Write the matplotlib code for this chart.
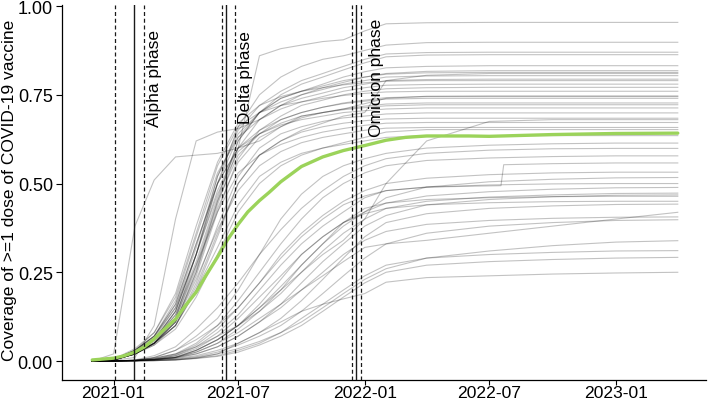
import matplotlib
matplotlib.use("Agg")
import matplotlib.pyplot as plt
import matplotlib.dates as mdates
import numpy as np

plt.rcParams['font.family'] = ['Liberation Sans', 'DejaVu Sans']

# ---------------- data ----------------
sample_dates = ["2020-12-01", "2021-01-01", "2021-02-01", "2021-03-01", "2021-04-01",
                "2021-05-01", "2021-06-01", "2021-07-01", "2021-08-01", "2021-09-01",
                "2021-10-01", "2021-11-01", "2021-12-01", "2022-01-01", "2022-02-01",
                "2022-04-01", "2022-07-01", "2022-10-01", "2023-01-01", "2023-04-01"]

# high-uptake countries
cov_a01 = [0, 0.003, 0.02, 0.05, 0.12, 0.30, 0.50, 0.60, 0.86, 0.88, 0.89, 0.90, 0.905, 0.93, 0.95, 0.953, 0.954, 0.954, 0.954, 0.954]
cov_a02 = [0, 0.005, 0.03, 0.07, 0.15, 0.30, 0.50, 0.66, 0.75, 0.80, 0.83, 0.85, 0.86, 0.875, 0.89, 0.897, 0.898, 0.898, 0.898, 0.898]
cov_a03 = [0, 0.004, 0.025, 0.06, 0.14, 0.30, 0.52, 0.65, 0.72, 0.76, 0.79, 0.81, 0.83, 0.85, 0.865, 0.869, 0.870, 0.870, 0.870, 0.870]
cov_a04 = [0, 0.003, 0.02, 0.05, 0.11, 0.25, 0.45, 0.62, 0.70, 0.75, 0.78, 0.80, 0.82, 0.84, 0.857, 0.862, 0.863, 0.863, 0.863, 0.863]
cov_a05 = [0, 0.004, 0.03, 0.07, 0.16, 0.33, 0.50, 0.63, 0.70, 0.74, 0.76, 0.78, 0.80, 0.815, 0.826, 0.830, 0.832, 0.832, 0.832, 0.832]
cov_a06 = [0, 0.003, 0.025, 0.06, 0.13, 0.28, 0.46, 0.62, 0.70, 0.74, 0.76, 0.775, 0.79, 0.80, 0.81, 0.816, 0.818, 0.818, 0.818, 0.818]
cov_a07 = [0, 0.002, 0.01, 0.10, 0.40, 0.62, 0.645, 0.655, 0.68, 0.72, 0.75, 0.77, 0.785, 0.80, 0.808, 0.812, 0.813, 0.813, 0.813, 0.813]
cov_a08 = [0, 0.004, 0.028, 0.065, 0.15, 0.32, 0.52, 0.64, 0.70, 0.73, 0.75, 0.765, 0.78, 0.79, 0.80, 0.803, 0.804, 0.804, 0.804, 0.804]
cov_a09 = [0, 0.003, 0.02, 0.055, 0.12, 0.26, 0.44, 0.60, 0.68, 0.72, 0.74, 0.755, 0.77, 0.78, 0.79, 0.793, 0.794, 0.794, 0.794, 0.794]
cov_a10 = [0, 0.004, 0.03, 0.07, 0.17, 0.35, 0.53, 0.63, 0.68, 0.71, 0.73, 0.745, 0.76, 0.77, 0.777, 0.779, 0.780, 0.780, 0.780, 0.780]
cov_a11 = [0, 0.003, 0.02, 0.05, 0.11, 0.24, 0.42, 0.57, 0.65, 0.69, 0.72, 0.735, 0.75, 0.76, 0.767, 0.770, 0.771, 0.771, 0.771, 0.771]
cov_a12 = [0, 0.02, 0.38, 0.51, 0.575, 0.58, 0.585, 0.60, 0.62, 0.66, 0.69, 0.70, 0.71, 0.725, 0.74, 0.746, 0.747, 0.747, 0.747, 0.747]
cov_a13 = [0, 0.004, 0.025, 0.06, 0.14, 0.30, 0.48, 0.60, 0.65, 0.68, 0.70, 0.715, 0.725, 0.732, 0.738, 0.740, 0.740, 0.740, 0.740, 0.740]
cov_a14 = [0, 0.003, 0.02, 0.05, 0.11, 0.25, 0.43, 0.56, 0.63, 0.66, 0.685, 0.70, 0.71, 0.718, 0.724, 0.727, 0.727, 0.727, 0.727, 0.727]
cov_a15 = [0, 0.004, 0.03, 0.07, 0.16, 0.33, 0.50, 0.60, 0.64, 0.665, 0.68, 0.69, 0.70, 0.705, 0.71, 0.713, 0.713, 0.713, 0.713, 0.713]
cov_a16 = [0, 0.003, 0.02, 0.05, 0.10, 0.22, 0.38, 0.52, 0.60, 0.64, 0.66, 0.675, 0.685, 0.69, 0.696, 0.699, 0.699, 0.699, 0.699, 0.699]
cov_a17 = [0, 0.003, 0.02, 0.045, 0.10, 0.20, 0.35, 0.50, 0.58, 0.62, 0.645, 0.66, 0.67, 0.677, 0.682, 0.684, 0.684, 0.684, 0.684, 0.684]
cov_a18 = [0, 0.004, 0.025, 0.06, 0.13, 0.27, 0.42, 0.53, 0.58, 0.61, 0.63, 0.645, 0.655, 0.664, 0.67, 0.672, 0.672, 0.672, 0.672, 0.672]
cov_a19 = [0, 0.003, 0.02, 0.05, 0.11, 0.23, 0.37, 0.48, 0.55, 0.59, 0.615, 0.63, 0.64, 0.65, 0.656, 0.658, 0.658, 0.658, 0.658, 0.658]
cov_a20 = [0, 0.003, 0.02, 0.045, 0.09, 0.18, 0.30, 0.42, 0.50, 0.55, 0.58, 0.60, 0.615, 0.63, 0.645, 0.652, 0.652, 0.652, 0.652, 0.652]
cov_a21 = [0, 0.003, 0.02, 0.05, 0.10, 0.20, 0.32, 0.44, 0.52, 0.56, 0.585, 0.60, 0.61, 0.62, 0.63, 0.635, 0.635, 0.635, 0.635, 0.635]
cov_a22 = [0, 0.003, 0.02, 0.05, 0.10, 0.21, 0.36, 0.50, 0.58, 0.62, 0.65, 0.67, 0.69, 0.70, 0.79, 0.805, 0.81, 0.81, 0.81, 0.81]
cov_a23 = [0, 0.001, 0.002, 0.005, 0.01, 0.03, 0.06, 0.10, 0.15, 0.20, 0.25, 0.30, 0.34, 0.40, 0.50, 0.62, 0.675, 0.68, 0.68, 0.68]
cov_a24 = [0, 0.004, 0.03, 0.08, 0.18, 0.36, 0.55, 0.66, 0.70, 0.72, 0.73, 0.74, 0.748, 0.754, 0.758, 0.760, 0.760, 0.760, 0.760, 0.760]
cov_a25 = [0, 0.003, 0.025, 0.06, 0.14, 0.30, 0.47, 0.59, 0.64, 0.67, 0.69, 0.70, 0.708, 0.714, 0.719, 0.722, 0.722, 0.722, 0.722, 0.722]
cov_a26 = [0, 0.005, 0.035, 0.08, 0.19, 0.38, 0.56, 0.67, 0.72, 0.745, 0.76, 0.77, 0.778, 0.784, 0.788, 0.790, 0.790, 0.790, 0.790, 0.790]
cov_a27 = [0, 0.003, 0.02, 0.05, 0.12, 0.27, 0.45, 0.58, 0.64, 0.68, 0.70, 0.715, 0.727, 0.735, 0.742, 0.745, 0.745, 0.745, 0.745, 0.745]

# lower-uptake countries
cov_b01 = [0, 0, 0.002, 0.01, 0.03, 0.07, 0.12, 0.20, 0.30, 0.40, 0.47, 0.52, 0.55, 0.57, 0.585, 0.60, 0.608, 0.612, 0.614, 0.614]
cov_b02 = [0, 0, 0.003, 0.015, 0.04, 0.09, 0.15, 0.22, 0.30, 0.37, 0.43, 0.48, 0.52, 0.55, 0.57, 0.585, 0.594, 0.598, 0.599, 0.599]
cov_b03 = [0, 0, 0.002, 0.008, 0.02, 0.05, 0.10, 0.17, 0.25, 0.33, 0.40, 0.46, 0.50, 0.53, 0.55, 0.565, 0.572, 0.576, 0.578, 0.578]
cov_b05 = [0, 0, 0.002, 0.01, 0.03, 0.06, 0.10, 0.15, 0.22, 0.30, 0.36, 0.41, 0.45, 0.48, 0.50, 0.515, 0.525, 0.53, 0.532, 0.532]
cov_b06 = [0, 0, 0.001, 0.004, 0.01, 0.025, 0.05, 0.09, 0.14, 0.20, 0.27, 0.33, 0.38, 0.42, 0.46, 0.49, 0.505, 0.512, 0.516, 0.517]
cov_b07 = [0, 0, 0.001, 0.005, 0.015, 0.035, 0.07, 0.12, 0.18, 0.24, 0.30, 0.35, 0.39, 0.42, 0.445, 0.465, 0.477, 0.484, 0.488, 0.489]
cov_b08 = [0, 0, 0.002, 0.008, 0.02, 0.04, 0.07, 0.10, 0.14, 0.19, 0.25, 0.31, 0.36, 0.40, 0.43, 0.45, 0.462, 0.468, 0.472, 0.473]
cov_b09 = [0, 0, 0.001, 0.003, 0.008, 0.02, 0.04, 0.07, 0.11, 0.16, 0.22, 0.28, 0.33, 0.38, 0.41, 0.44, 0.455, 0.463, 0.467, 0.468]
cov_b10 = [0, 0, 0.001, 0.004, 0.01, 0.03, 0.06, 0.10, 0.15, 0.21, 0.27, 0.33, 0.39, 0.43, 0.445, 0.455, 0.46, 0.463, 0.464, 0.464]
cov_b11 = [0, 0, 0.001, 0.003, 0.007, 0.015, 0.03, 0.05, 0.08, 0.12, 0.17, 0.23, 0.29, 0.35, 0.39, 0.415, 0.43, 0.437, 0.441, 0.442]
cov_b12 = [0, 0, 0.001, 0.004, 0.01, 0.025, 0.05, 0.08, 0.12, 0.16, 0.20, 0.24, 0.28, 0.32, 0.33, 0.34, 0.36, 0.38, 0.40, 0.419]
cov_b13 = [0, 0, 0.001, 0.003, 0.01, 0.02, 0.04, 0.07, 0.11, 0.15, 0.20, 0.25, 0.30, 0.34, 0.365, 0.385, 0.396, 0.402, 0.405, 0.406]
cov_b14 = [0, 0, 0.001, 0.002, 0.005, 0.012, 0.025, 0.045, 0.07, 0.10, 0.14, 0.19, 0.24, 0.29, 0.33, 0.36, 0.38, 0.39, 0.396, 0.398]
cov_b15 = [0, 0, 0.001, 0.002, 0.004, 0.01, 0.02, 0.035, 0.055, 0.08, 0.11, 0.15, 0.19, 0.23, 0.26, 0.29, 0.31, 0.325, 0.335, 0.339]
cov_b16 = [0, 0, 0, 0.001, 0.003, 0.008, 0.015, 0.03, 0.05, 0.08, 0.12, 0.16, 0.20, 0.24, 0.27, 0.29, 0.30, 0.306, 0.31, 0.311]
cov_b17 = [0, 0, 0, 0.001, 0.003, 0.007, 0.013, 0.025, 0.045, 0.07, 0.10, 0.14, 0.18, 0.22, 0.25, 0.27, 0.28, 0.286, 0.29, 0.292]
cov_b18 = [0, 0, 0, 0.001, 0.003, 0.008, 0.02, 0.05, 0.08, 0.11, 0.14, 0.16, 0.175, 0.19, 0.222, 0.235, 0.24, 0.245, 0.248, 0.25]
cov_b19 = [0, 0, 0.001, 0.004, 0.012, 0.03, 0.06, 0.10, 0.16, 0.23, 0.30, 0.35, 0.39, 0.415, 0.43, 0.44, 0.446, 0.449, 0.45, 0.45]
cov_b20 = [0, 0, 0.002, 0.006, 0.018, 0.045, 0.09, 0.15, 0.22, 0.29, 0.35, 0.40, 0.44, 0.465, 0.48, 0.49, 0.496, 0.499, 0.50, 0.50]

# one country with a late jump in reported coverage
step_dates = ["2020-12-01", "2021-01-01", "2021-02-01", "2021-03-01", "2021-04-01",
              "2021-05-01", "2021-06-01", "2021-07-01", "2021-08-01", "2021-09-01",
              "2021-10-01", "2021-11-01", "2021-12-01", "2022-01-01", "2022-02-01",
              "2022-04-01", "2022-07-18", "2022-07-22", "2022-10-01", "2023-01-01", "2023-04-01"]
step_values = [0, 0, 0.001, 0.005, 0.015, 0.04, 0.08, 0.13, 0.20, 0.27, 0.33, 0.38, 0.42,
               0.46, 0.48, 0.49, 0.494, 0.553, 0.556, 0.558, 0.558]

# mean coverage (green)
mean_dates = ["2020-12-01", "2021-01-01", "2021-01-15", "2021-02-01", "2021-02-15", "2021-03-01",
              "2021-03-15", "2021-04-01", "2021-04-15", "2021-05-01", "2021-05-15", "2021-06-01",
              "2021-06-15", "2021-07-01", "2021-07-15", "2021-08-01", "2021-08-15", "2021-09-01",
              "2021-10-01", "2021-11-01", "2021-12-01", "2022-01-01", "2022-02-01", "2022-03-01",
              "2022-04-01", "2022-06-01", "2022-07-01", "2022-10-01", "2023-01-01", "2023-04-01"]
mean_values = [0.003, 0.008, 0.014, 0.025, 0.04, 0.062, 0.088, 0.118, 0.155, 0.194, 0.24, 0.293,
               0.34, 0.385, 0.42, 0.452, 0.475, 0.505, 0.548, 0.575, 0.593, 0.607, 0.622, 0.63,
               0.634, 0.634, 0.633, 0.638, 0.641, 0.642]

phase_names = ["Alpha phase", "Delta phase", "Omicron phase"]
phase_start = ["2021-01-31", "2021-06-13", "2021-12-20"]
window_lo = ["2021-01-03", "2021-06-07", "2021-12-13"]
window_hi = ["2021-02-14", "2021-06-27", "2021-12-27"]
label_dates = ["2021-03-01", "2021-07-12", "2022-01-18"]
label_y = 0.80

x_ticks = ["2021-01-01", "2021-07-01", "2022-01-01", "2022-07-01", "2023-01-01"]
y_ticks = [0.0, 0.25, 0.5, 0.75, 1.0]

gray_series = [cov_a01, cov_a02, cov_a03, cov_a04, cov_a05, cov_a06, cov_a07, cov_a08, cov_a09,
               cov_a10, cov_a11, cov_a12, cov_a13, cov_a14, cov_a15, cov_a16, cov_a17, cov_a18,
               cov_a19, cov_a20, cov_a21, cov_a22, cov_a23, cov_a24, cov_a25, cov_a26, cov_a27,
               cov_b01, cov_b02, cov_b03, cov_b05, cov_b06, cov_b07, cov_b08, cov_b09, cov_b10,
               cov_b11, cov_b12, cov_b13, cov_b14, cov_b15, cov_b16, cov_b17, cov_b18, cov_b19,
               cov_b20]

# ---------------- plot ----------------
def d(s):
    return np.datetime64(s)

W, H = 709, 402
fig = plt.figure(figsize=(W / 100, H / 100), dpi=100)
ax = fig.add_axes([62 / W, 21 / H, 644 / W, 375 / H])

xd = [d(s) for s in sample_dates]
for series in gray_series:
    ax.plot(xd, series, color="black", alpha=0.24, lw=0.8, zorder=2)
ax.plot([d(s) for s in step_dates], step_values, color="black", alpha=0.24, lw=0.8, zorder=2)

ax.plot([d(s) for s in mean_dates], mean_values, color="#9bd35a", lw=2.4, zorder=3,
        solid_capstyle="round")

for name, s0, lo, hi, lx in zip(phase_names, phase_start, window_lo, window_hi, label_dates):
    ax.axvline(d(s0), color="#1a1a1a", lw=1.0, zorder=4)
    ax.axvline(d(lo), color="#1a1a1a", lw=0.9, ls=(0, (3.2, 2.2)), zorder=4)
    ax.axvline(d(hi), color="#1a1a1a", lw=0.9, ls=(0, (3.2, 2.2)), zorder=4)
    ax.text(d(lx), label_y, name, rotation=90, ha="center", va="center",
            fontsize=12.5, color="black", zorder=5)

ax.set_xlim(d("2020-10-18"), d("2023-05-12"))
ax.set_ylim(-0.0535, 1.003)

ax.set_xticks([d(s) for s in x_ticks])
ax.xaxis.set_major_formatter(mdates.DateFormatter("%Y-%m"))
ax.set_yticks(y_ticks)
ax.set_yticklabels([f"{v:.2f}" for v in y_ticks])
ax.tick_params(axis="both", labelsize=13, width=0.8, color="black", labelcolor="black")
ax.tick_params(axis="x", length=3.5, pad=0.3, labelsize=12.6)
ax.tick_params(axis="y", length=4, pad=2.5)

for side in ["top", "right"]:
    ax.spines[side].set_visible(False)
for side in ["left", "bottom"]:
    ax.spines[side].set_linewidth(0.9)
    ax.spines[side].set_color("black")

fig.text(10 / W, 1 - 190 / H, "Coverage of >=1 dose of COVID-19 vaccine", rotation=90,
         ha="center", va="center", fontsize=12.5, color="black")

fig.savefig("out.png", dpi=100)
